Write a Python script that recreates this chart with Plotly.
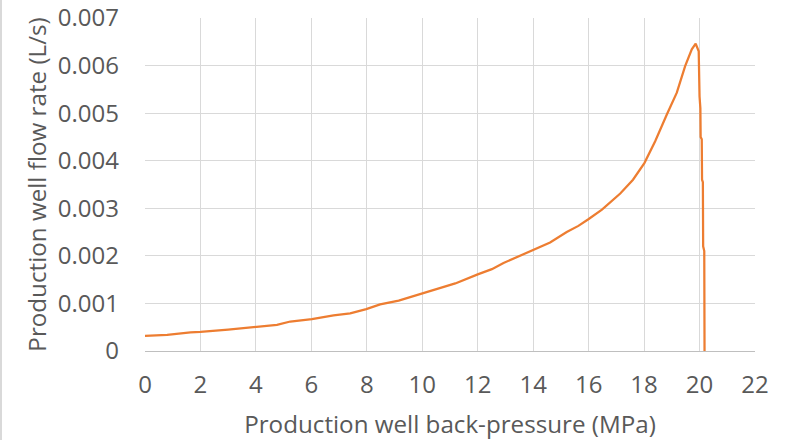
import plotly.graph_objects as go

pressure_mpa = [0, 0.8, 1.64, 2.0, 3.0, 3.98, 4.76, 5.24, 6.02, 6.8, 7.4, 7.98, 8.48, 9.15,
                9.99, 11.19, 12.0, 12.51, 12.93, 13.41, 13.97, 14.61, 15.21, 15.63, 15.99,
                16.48, 17.14, 17.6, 18.01, 18.4, 18.82, 19.18, 19.48, 19.72, 19.86, 19.93,
                19.97, 20.0, 20.03, 20.04, 20.08, 20.09, 20.12, 20.13, 20.17, 20.18]
flow_rate_ls = [0.00032, 0.000337, 0.00039, 0.0004, 0.00045, 0.00051, 0.00055, 0.00062,
                0.00067, 0.00075, 0.00079, 0.00088, 0.00098, 0.00106, 0.00121, 0.00142,
                0.00161, 0.00172, 0.00185, 0.00197, 0.00211, 0.00228, 0.0025, 0.00263,
                0.00277, 0.00297, 0.00331, 0.0036, 0.00395, 0.00441, 0.00497, 0.00543,
                0.00599, 0.00634, 0.00646, 0.00637, 0.0063, 0.00535, 0.0051, 0.0045,
                0.00445, 0.0036, 0.00355, 0.0022, 0.0021, 0.0]

x_ticks = list(range(0, 23, 2))
y_ticks = [0, 0.001, 0.002, 0.003, 0.004, 0.005, 0.006, 0.007]
y_tick_text = ["0", "0.001", "0.002", "0.003", "0.004", "0.005", "0.006", "0.007"]

FONT = "Open Sans"
GREY = "#595959"

fig = go.Figure()
fig.add_trace(go.Scatter(
    x=pressure_mpa, y=flow_rate_ls, mode="lines",
    line=dict(color="#ED7D31", width=2.25),
    hoverinfo="x+y", showlegend=False,
))

fig.update_layout(
    width=786, height=440,
    margin=dict(l=145, r=31, t=18, b=89),
    paper_bgcolor="white", plot_bgcolor="white",
    font=dict(family=FONT, color=GREY, size=24),
    xaxis=dict(
        range=[0, 22], tickvals=x_ticks, ticktext=[str(v) for v in x_ticks],
        showgrid=True, gridcolor="#D9D9D9", gridwidth=1,
        showline=True, linecolor="#BFBFBF", linewidth=1,
        zeroline=False, ticks="", ticklabelstandoff=12, automargin=False,
        tickfont=dict(size=24, color=GREY, family=FONT),
        title=dict(text="Production well back-pressure (MPa)",
                   font=dict(size=24.2, color=GREY, family=FONT), standoff=17),
    ),
    yaxis=dict(
        range=[0, 0.007], tickvals=y_ticks, ticktext=y_tick_text,
        showgrid=True, gridcolor="#D9D9D9", gridwidth=1,
        showline=False, zeroline=False, ticks="", ticklabelstandoff=25,
        automargin=False,
        tickfont=dict(size=24, color=GREY, family=FONT),
        title=dict(text="Production well flow rate (L/s)",
                   font=dict(size=24.2, color=GREY, family=FONT), standoff=4),
    ),
)
fig.add_shape(type="line", xref="paper", yref="paper",
              x0=-144/610, x1=-144/610, y0=-89/333, y1=1+18/333,
              line=dict(color="#D9D9D9", width=2))

fig.write_html("out.html", config={"displayModeBar": False},
               post_script="document.body.style.margin='0';")
